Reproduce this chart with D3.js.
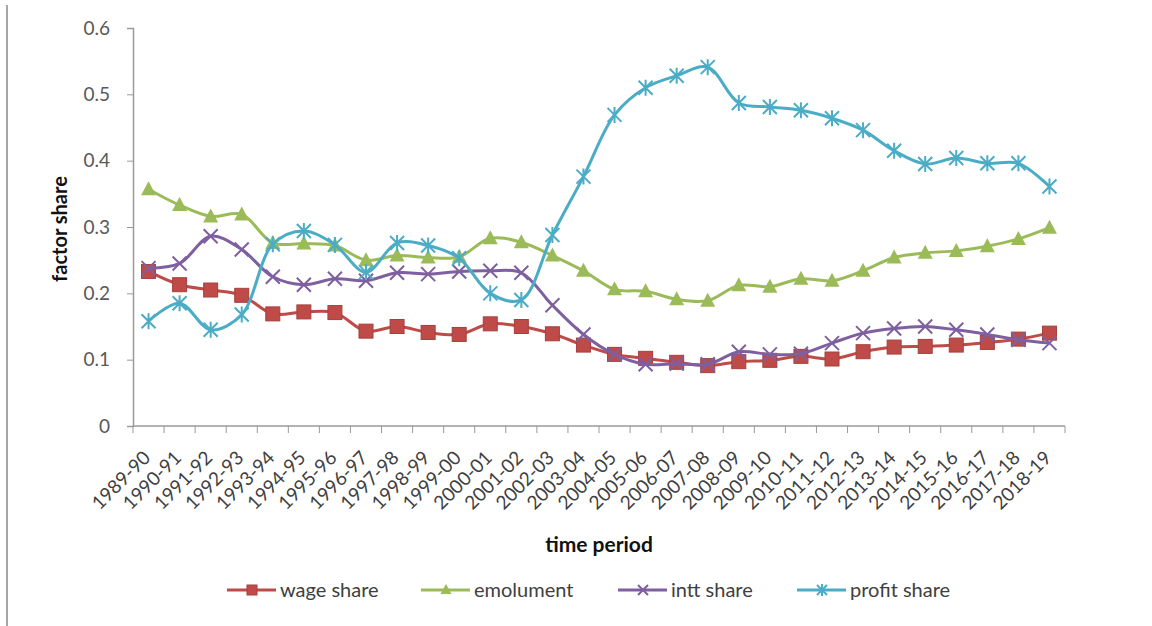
<!DOCTYPE html>
<html>
<head>
<meta charset="utf-8">
<script src="https://cdn.jsdelivr.net/npm/d3@7"></script>
<style>
  html, body { margin: 0; padding: 0; background: #fff; }
  svg { display: block; }
  text { font-family: Lato, "Open Sans", "Liberation Sans", sans-serif; }
</style>
</head>
<body>
<svg id="chart" width="1152" height="626"></svg>
<script>
// Fiscal years
const periods = ["1989-90","1990-91","1991-92","1992-93","1993-94","1994-95","1995-96","1996-97",
  "1997-98","1998-99","1999-00","2000-01","2001-02","2002-03","2003-04","2004-05","2005-06",
  "2006-07","2007-08","2008-09","2009-10","2010-11","2011-12","2012-13","2013-14","2014-15",
  "2015-16","2016-17","2017-18","2018-19"];

// Factor shares by year
const wageShare = [0.233,0.213,0.205,0.197,0.169,0.172,0.171,0.143,0.150,0.141,0.138,0.154,0.150,
  0.139,0.122,0.108,0.102,0.096,0.091,0.097,0.099,0.105,0.101,0.112,0.119,0.120,0.122,0.126,0.131,0.140];
const emolument = [0.357,0.333,0.316,0.319,0.276,0.275,0.272,0.250,0.257,0.254,0.255,0.283,0.277,
  0.257,0.234,0.206,0.203,0.191,0.189,0.212,0.210,0.222,0.219,0.234,0.254,0.261,0.264,0.271,0.282,0.299];
const inttShare = [0.238,0.245,0.286,0.266,0.225,0.213,0.222,0.219,0.231,0.229,0.233,0.234,0.231,
  0.182,0.138,0.108,0.093,0.094,0.093,0.112,0.108,0.109,0.125,0.140,0.147,0.150,0.145,0.138,0.130,0.125];
const profitShare = [0.158,0.185,0.145,0.168,0.274,0.294,0.273,0.232,0.276,0.272,0.253,0.200,0.190,
  0.288,0.376,0.469,0.510,0.528,0.541,0.487,0.481,0.476,0.464,0.446,0.415,0.395,0.404,0.396,0.396,0.361];

const yTicks = [0, 0.1, 0.2, 0.3, 0.4, 0.5, 0.6];

const seriesList = [
  { name: "wage share",   values: wageShare,   color: "#BE4B48", marker: "square" },
  { name: "emolument",    values: emolument,   color: "#9BBB59", marker: "triangle" },
  { name: "intt share",   values: inttShare,   color: "#7E5FA0", marker: "x" },
  { name: "profit share", values: profitShare, color: "#4BACC6", marker: "star" }
];

const svg = d3.select("#chart");
const margin = { left: 133, right: 87, top: 28, bottom: 200 };
const W = 1152, H = 626;
const plotW = W - margin.left - margin.right;
const plotH = H - margin.top - margin.bottom;

// frame line on the left edge
svg.append("line").attr("x1", 7).attr("x2", 7).attr("y1", 5).attr("y2", 626)
  .attr("stroke", "#a6a6a6").attr("stroke-width", 2);

const g = svg.append("g").attr("transform", `translate(${margin.left},${margin.top})`);

const x = d3.scaleBand().domain(periods).range([0, plotW]);
const y = d3.scaleLinear().domain([0, 0.6]).range([plotH, 0]);

// y axis
const yAxis = g.append("g").call(d3.axisLeft(y).tickValues(yTicks)
  .tickFormat(d => d === 0 ? "0" : d3.format(".1f")(d)).tickSize(6).tickPadding(17));
yAxis.select(".domain").attr("stroke", "#9a9a9a").attr("stroke-width", 1.5);
yAxis.selectAll(".tick line").attr("stroke", "#9a9a9a");
yAxis.selectAll(".tick text").attr("fill", "#595959").style("font-size", "19px");

// x axis: ticks at category boundaries
const xAxisG = g.append("g").attr("transform", `translate(0,${plotH})`);
xAxisG.append("line").attr("x1", 0).attr("x2", plotW).attr("y1", 0).attr("y2", 0)
  .attr("stroke", "#9a9a9a").attr("stroke-width", 1.5);
const boundaries = periods.map((p, i) => i).concat([periods.length]);
xAxisG.selectAll("line.tk").data(boundaries).join("line").attr("class", "tk")
  .attr("x1", i => i * x.step()).attr("x2", i => i * x.step())
  .attr("y1", 0).attr("y2", 7).attr("stroke", "#9a9a9a");
xAxisG.selectAll("text.lbl").data(periods).join("text").attr("class", "lbl")
  .attr("transform", d => `translate(${x(d) + x.bandwidth() / 2 + 3},33) rotate(-45)`)
  .attr("text-anchor", "end")
  .attr("fill", "#404040")
  .style("font-size", "19px")
  .text(d => d);

// axis titles
svg.append("text").attr("transform", `translate(67,${margin.top + plotH / 2 + 2}) rotate(-90)`)
  .attr("text-anchor", "middle").style("font-size", "20px").style("font-weight", "bold")
  .attr("fill", "#111").text("factor share");
svg.append("text").attr("x", 599).attr("y", 552)
  .attr("text-anchor", "middle").style("font-size", "21px").style("font-weight", "bold")
  .attr("fill", "#111").text("time period");

const cx = i => x(periods[i]) + x.bandwidth() / 2;

function drawMarker(sel, type, color, r) {
  if (type === "square") {
    sel.append("rect").attr("x", -r).attr("y", -r).attr("width", 2 * r).attr("height", 2 * r)
      .attr("fill", color).attr("stroke", "#A5403D").attr("stroke-width", 1);
  } else if (type === "triangle") {
    sel.append("path").attr("d", `M0,${-r - 1} L${r + 0.5},${r - 1} L${-r - 0.5},${r - 1} Z`).attr("fill", color);
  } else if (type === "x") {
    sel.append("path").attr("d", `M${-r},${-r} L${r},${r} M${-r},${r} L${r},${-r}`)
      .attr("stroke", color).attr("stroke-width", 2).attr("fill", "none");
  } else if (type === "star") {
    sel.append("path").attr("d", `M${-r},${-r} L${r},${r} M${-r},${r} L${r},${-r} M0,${-r - 1} L0,${r + 1}`)
      .attr("stroke", color).attr("stroke-width", 2).attr("fill", "none");
  }
}

const line = d3.line().curve(d3.curveCatmullRom.alpha(0.5));

seriesList.forEach(s => {
  const pts = s.values.map((v, i) => [cx(i), y(v)]);
  g.append("path").attr("d", line(pts)).attr("fill", "none")
    .attr("stroke", s.color).attr("stroke-width", 3).attr("stroke-linejoin", "round");
  g.selectAll(null).data(s.values).join("g")
    .attr("transform", (v, i) => `translate(${cx(i)},${y(v)})`)
    .each(function () { drawMarker(d3.select(this), s.marker, s.color, 7); });
});

// legend
const legendX = [227, 421, 618, 797];
seriesList.forEach((s, k) => {
  const lg = svg.append("g").attr("transform", `translate(${legendX[k]},590)`);
  lg.append("line").attr("x1", 0).attr("x2", 49).attr("y1", 0).attr("y2", 0)
    .attr("stroke", s.color).attr("stroke-width", 3);
  const m = lg.append("g").attr("transform", "translate(25,0)");
  drawMarker(m, s.marker, s.color, 5);
  lg.append("text").attr("x", 53).attr("y", 7).style("font-size", "20px")
    .attr("fill", "#404040").text(s.name);
});
</script>
</body>
</html>
